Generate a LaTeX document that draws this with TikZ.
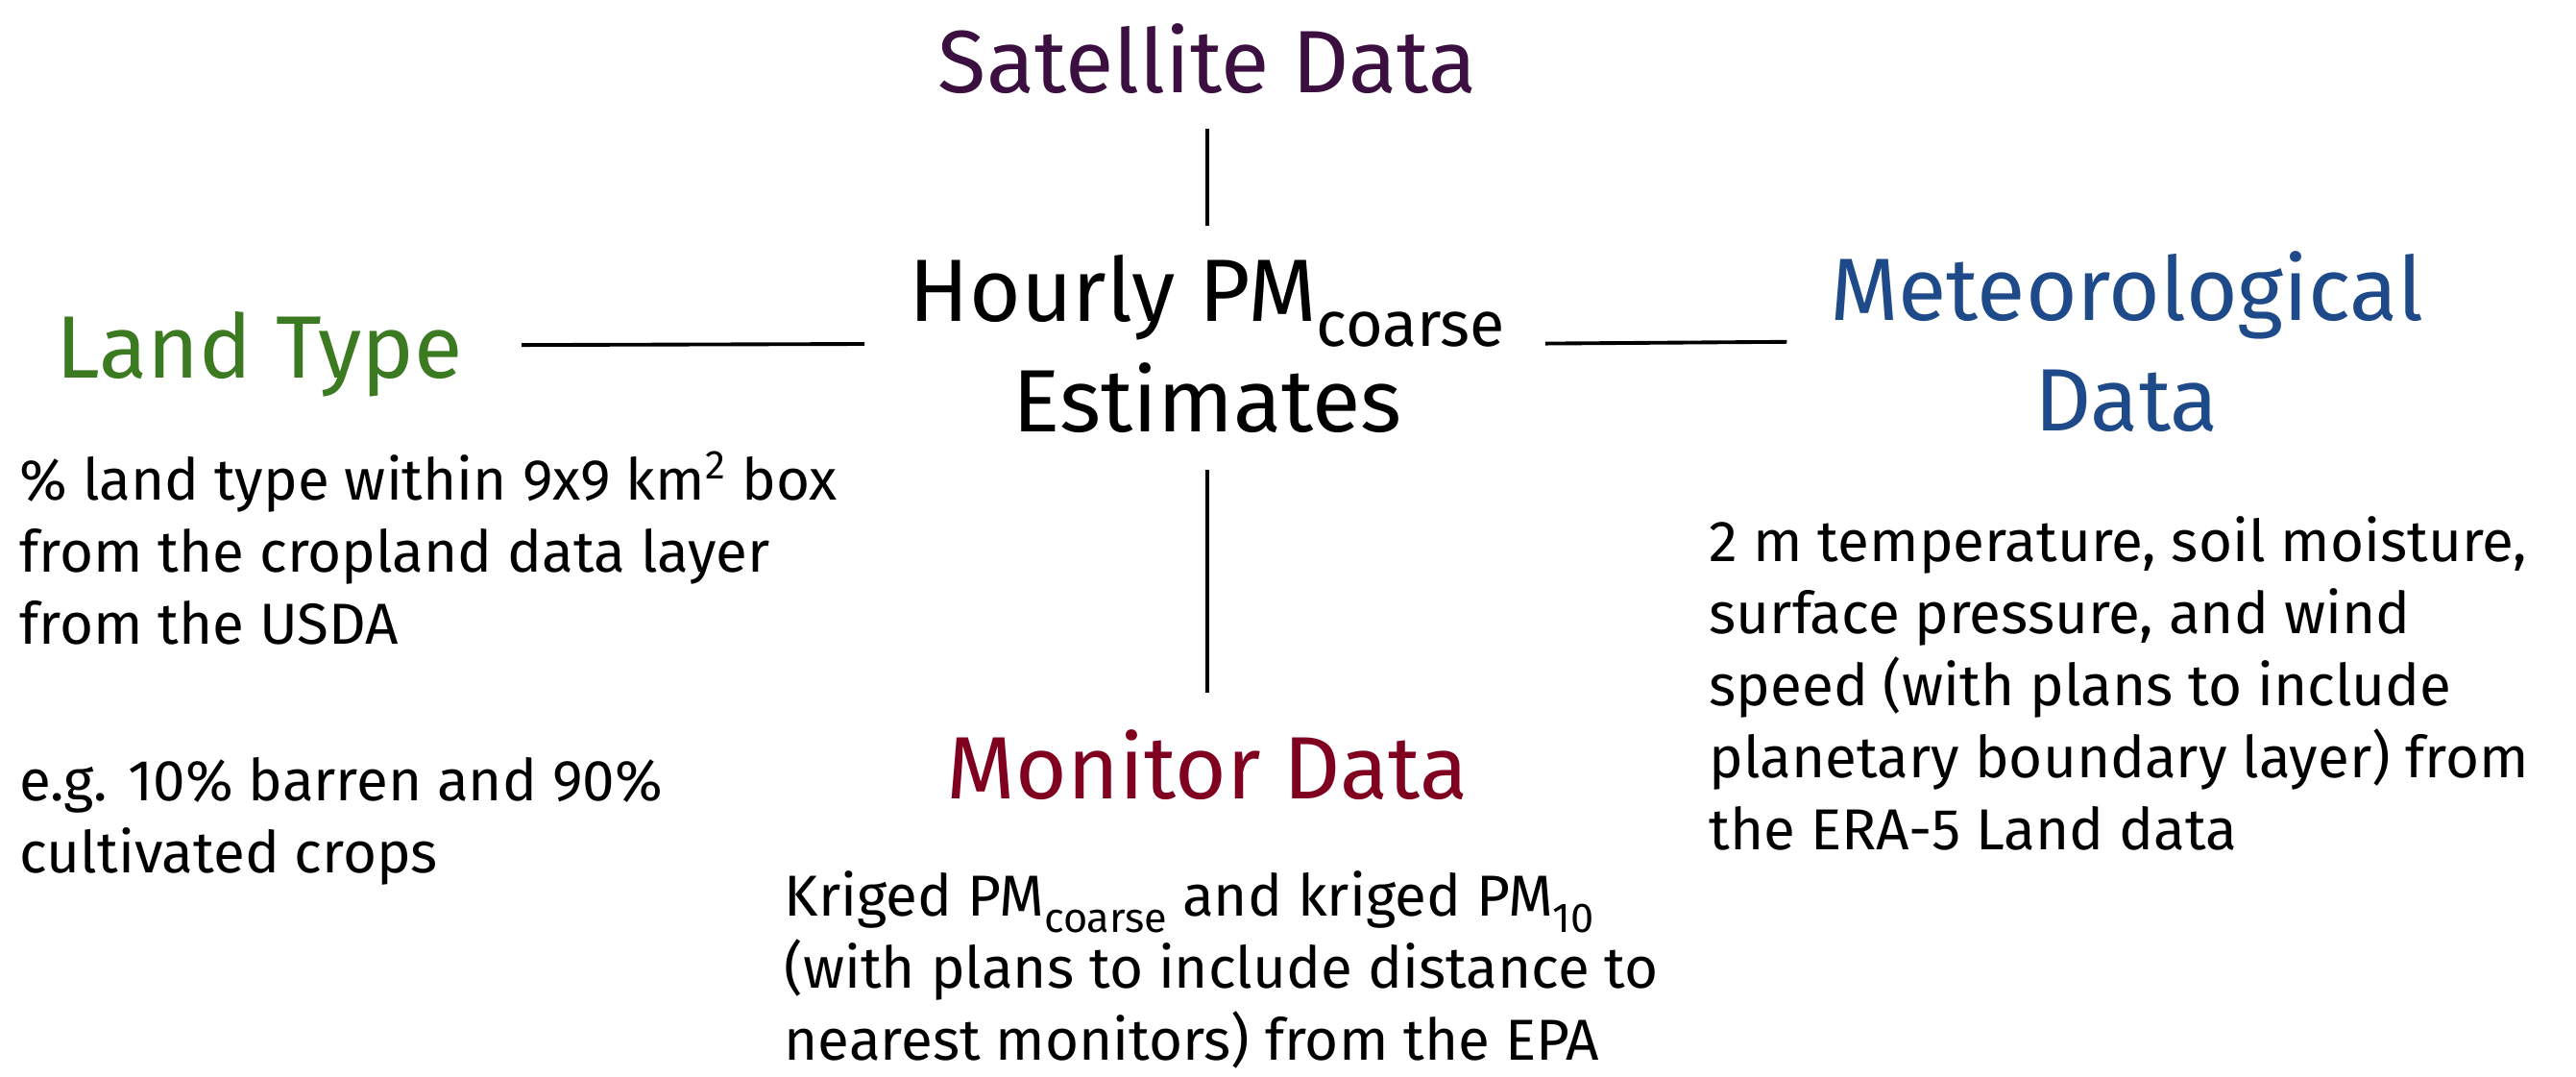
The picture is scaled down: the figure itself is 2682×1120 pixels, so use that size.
\documentclass[tikz,border=0pt]{standalone}
\usepackage{fontspec}
\setmainfont{Fira Sans}
\definecolor{satpurple}{RGB}{59,16,64}
\definecolor{landgreen}{RGB}{59,122,32}
\definecolor{metblue}{RGB}{31,74,138}
\definecolor{monred}{RGB}{128,0,32}
\newcommand*{\headfont}{\fontsize{26.2}{32.5}\selectfont}
\newcommand*{\notefont}{\fontsize{17.1}{21.3}\selectfont}
\makeatletter
% subscript set lower and larger than \textsubscript
\newcommand{\lowsub}[1]{\raisebox{-0.28em}{%
  \fontsize{\strip@pt\dimexpr0.72\dimexpr\f@size pt\relax\relax}{1em}\selectfont #1}}
\makeatother

\begin{document}
\begin{tikzpicture}[x=0.01cm, y=-0.01cm,
    head/.style={font=\headfont, inner sep=0pt, align=center, anchor=base},
    note/.style={font=\notefont, inner sep=0pt, align=left, anchor=base west},
    link/.style={line width=1.1pt}]
  \useasboundingbox (0,0) rectangle (2682,1120);

  % centre and the four data sources (base = last line)
  \node[head] (hub) at (1257,449) {Hourly PM\lowsub{coarse}\\Estimates};
  \node[head, text=satpurple] (sat) at (1257,96) {Satellite Data};
  \node[head, text=landgreen] (land) at (270,393) {Land Type};
  \node[head, text=metblue] (met) at (2214,448) {Meteorological\\Data};
  \node[head, text=monred] (mon) at (1257,831) {Monitor Data};

  % notes under each source
  \node[note] (landnote) at (20,908) {\% land type within 9x9 km\textsuperscript{2} box\\
    from the cropland data layer\\from the USDA\\[25pt]
    e.g. 10\% barren and 90\%\\cultivated crops};
  \node[note] (metnote) at (1779,884) {2 m temperature, soil moisture,\\
    surface pressure, and wind\\speed (with plans to include\\
    planetary boundary layer) from\\the ERA-5 Land data};
  \node[note] (monnote) at (816,1103) {Kriged PM\lowsub{coarse} and kriged PM\lowsub{10}\\
    (with plans to include distance to\\nearest monitors) from the EPA};

  \draw[link, shorten <=0.36cm, shorten >=0.30cm] (sat.south) -- (hub.north);
  \draw[link, shorten <=0.61cm, shorten >=0.46cm] ([yshift=0.09cm]land.east) -- (hub.west);
  \draw[link, shorten <=0.41cm, shorten >=0.44cm] (hub.east) -- (met.west);
  \draw[link, shorten <=0.38cm, shorten >=0.37cm] (hub.south) -- (mon.north);
\end{tikzpicture}
\end{document}
